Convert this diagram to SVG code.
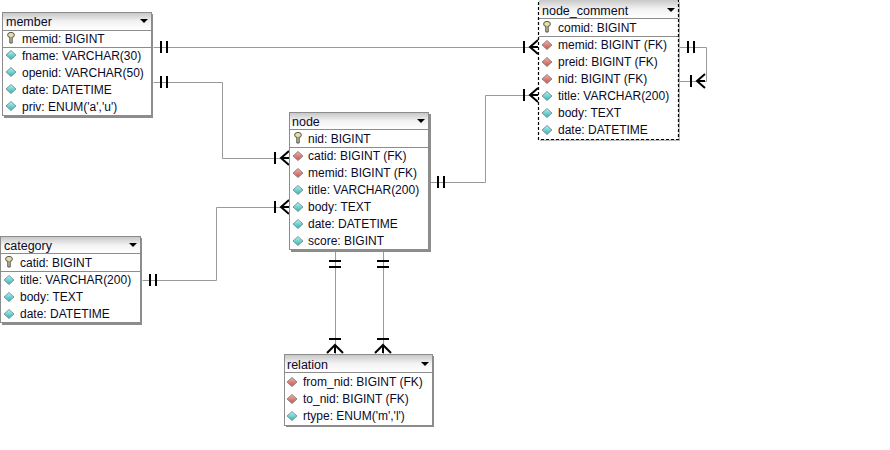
<svg xmlns="http://www.w3.org/2000/svg" width="890" height="450" viewBox="0 0 890 450">
<style>
text{font-family:"Liberation Sans",Arial,sans-serif;font-size:12px;fill:#0a0a28}
.t{font-size:12.5px}
.box{fill:#fff;stroke:#8c8c8c;stroke-width:1}
.sh{fill:#8c8c8c}
.sep{stroke:#8c8c8c;stroke-width:1}
.dash{fill:none;stroke:#000;stroke-width:1.2;stroke-dasharray:3 2}
.c{fill:none;stroke:#999;stroke-width:1}
.m{fill:none;stroke:#000;stroke-width:2}
</style>
<defs>
<linearGradient id="hd" x1="0" y1="0" x2="0" y2="1"><stop offset="0" stop-color="#c8c8c8"/><stop offset="0.5" stop-color="#f2f2f2"/><stop offset="1" stop-color="#fff"/></linearGradient>
<linearGradient id="gf" x1="0" y1="0" x2="0" y2="1"><stop offset="0" stop-color="#f4b0a8"/><stop offset="1" stop-color="#c85050"/></linearGradient>
<linearGradient id="gd" x1="0" y1="0" x2="0" y2="1"><stop offset="0" stop-color="#b8f4f4"/><stop offset="1" stop-color="#30b0b0"/></linearGradient>
<g id="k"><ellipse cx="0" cy="-3" rx="3.4" ry="2.6" fill="#e8e0a0" stroke="#555" stroke-width="1"/><path d="M-1.2 -1V5H1.2V-1" fill="#c8c090" stroke="#555" stroke-width="1"/></g>
<path id="f" d="M-5 0L0 -4.500L5 0L0 4.500Z" fill="url(#gf)" stroke="#8a8a8a" stroke-width="1"/>
<path id="d" d="M-5 0L0 -4.500L5 0L0 4.500Z" fill="url(#gd)" stroke="#7a9a9a" stroke-width="1"/>
<path id="a" d="M-4 0H4L0 4Z" fill="#000"/>
<path id="one" d="M-3 -6V6M3 -6V6" class="m"/>
<path id="crowL" d="M0 -7L-8 0L0 7M-8 0H0M-14 -6V6" class="m"/>
<path id="crowU" d="M-8 0L0 -8L8 0M0 -8V0M-6 -14H6" class="m"/>
<path id="oneH" d="M-6 -3H6M-6 3H6" class="m"/>
</defs>

<g id="connectors">
<g transform="translate(0.5 0.5)">
<path class="c" d="M153 47H538"/>
<path class="c" d="M153 82H222V158H289"/>
<path class="c" d="M142 280H216V207H289"/>
<path class="c" d="M430 182H485V95H538"/>
<path class="c" d="M679 47H706V81H679"/>
<path class="c" d="M335 251V354"/>
<path class="c" d="M383 251V354"/>
</g>
<use href="#one" x="164" y="47"/>
<use href="#crowL" x="538" y="47"/>
<use href="#one" x="164" y="82"/>
<use href="#crowL" x="289" y="158"/>
<use href="#one" x="153" y="280"/>
<use href="#crowL" x="289" y="207"/>
<use href="#one" x="441" y="182"/>
<use href="#crowL" x="538" y="95"/>
<use href="#one" x="691" y="47"/>
<use href="#crowL" x="705" y="81"/>
<use href="#oneH" x="335" y="264"/>
<use href="#oneH" x="383" y="264"/>
<use href="#crowU" x="335" y="353"/>
<use href="#crowU" x="383" y="353"/>
</g>

<g id="member">
<rect class="sh" x="4" y="14" width="149" height="104"/>
<rect class="box" x="2.500" y="12.500" width="149" height="103"/>
<rect x="3" y="13" width="148" height="17" fill="url(#hd)"/>
<path class="sep" d="M3 30.500H151M3 47.500H151"/>
<use href="#a" x="144" y="19"/>
<text class="t" x="6" y="26">member</text>
<use href="#k" x="11" y="38"/><text x="22" y="43">memid: BIGINT</text>
<use href="#d" x="11" y="55"/><text x="22" y="60">fname: VARCHAR(30)</text>
<use href="#d" x="11" y="72"/><text x="22" y="77">openid: VARCHAR(50)</text>
<use href="#d" x="11" y="89"/><text x="22" y="94">date: DATETIME</text>
<use href="#d" x="11" y="106"/><text x="22" y="111">priv: ENUM('a','u')</text>
</g>

<g id="node_comment">
<rect x="540" y="2" width="140" height="139" fill="#bbb"/>
<rect x="538.500" y="0" width="140" height="139.500" fill="#fff"/>
<rect x="539" y="0" width="139" height="18" fill="url(#hd)"/>
<path class="sep" d="M539 18.500H678M539 36.500H678"/>
<rect class="dash" x="538.500" y="-1" width="140" height="140.500"/>
<use href="#a" x="671" y="8"/>
<text class="t" x="542" y="15">node_comment</text>
<use href="#k" x="547" y="27"/><text x="558" y="32">comid: BIGINT</text>
<use href="#f" x="547" y="45"/><text x="558" y="49">memid: BIGINT (FK)</text>
<use href="#f" x="547" y="62"/><text x="558" y="66">preid: BIGINT (FK)</text>
<use href="#f" x="547" y="79"/><text x="558" y="83">nid: BIGINT (FK)</text>
<use href="#d" x="547" y="96"/><text x="558" y="100">title: VARCHAR(200)</text>
<use href="#d" x="547" y="113"/><text x="558" y="117">body: TEXT</text>
<use href="#d" x="547" y="130"/><text x="558" y="134">date: DATETIME</text>
</g>

<g id="node">
<rect class="sh" x="291" y="114" width="140" height="138"/>
<rect class="box" x="289.500" y="112.500" width="139" height="137"/>
<rect x="290" y="113" width="138" height="16" fill="url(#hd)"/>
<path class="sep" d="M290 129.500H428M290 147.500H428"/>
<use href="#a" x="421" y="119"/>
<text class="t" x="292" y="126">node</text>
<use href="#k" x="298" y="138"/><text x="308" y="143">nid: BIGINT</text>
<use href="#f" x="298" y="156"/><text x="308" y="160">catid: BIGINT (FK)</text>
<use href="#f" x="298" y="173"/><text x="308" y="177">memid: BIGINT (FK)</text>
<use href="#d" x="298" y="190"/><text x="308" y="194">title: VARCHAR(200)</text>
<use href="#d" x="298" y="207"/><text x="308" y="211">body: TEXT</text>
<use href="#d" x="298" y="224"/><text x="308" y="228">date: DATETIME</text>
<use href="#d" x="298" y="241"/><text x="308" y="245">score: BIGINT</text>
</g>

<g id="category">
<rect class="sh" x="2" y="238" width="140" height="87"/>
<rect class="box" x="0.500" y="236.500" width="140" height="86"/>
<rect x="1" y="237" width="139" height="16" fill="url(#hd)"/>
<path class="sep" d="M1 253.500H140M1 271.500H140"/>
<use href="#a" x="133" y="243"/>
<text class="t" x="4" y="250">category</text>
<use href="#k" x="9" y="262"/><text x="20" y="267">catid: BIGINT</text>
<use href="#d" x="9" y="280"/><text x="20" y="284">title: VARCHAR(200)</text>
<use href="#d" x="9" y="297"/><text x="20" y="301">body: TEXT</text>
<use href="#d" x="9" y="314"/><text x="20" y="318">date: DATETIME</text>
</g>

<g id="relation">
<rect class="sh" x="286" y="356" width="148" height="71"/>
<rect class="box" x="284.500" y="354.500" width="148" height="71"/>
<rect x="285" y="355" width="147" height="17" fill="url(#hd)"/>
<path class="sep" d="M285 372.500H432"/>
<use href="#a" x="425" y="362"/>
<text class="t" x="287" y="369">relation</text>
<use href="#f" x="292" y="382"/><text x="303" y="386">from_nid: BIGINT (FK)</text>
<use href="#f" x="292" y="399"/><text x="303" y="403">to_nid: BIGINT (FK)</text>
<use href="#d" x="292" y="416"/><text x="303" y="420">rtype: ENUM('m','l')</text>
</g>
</svg>
